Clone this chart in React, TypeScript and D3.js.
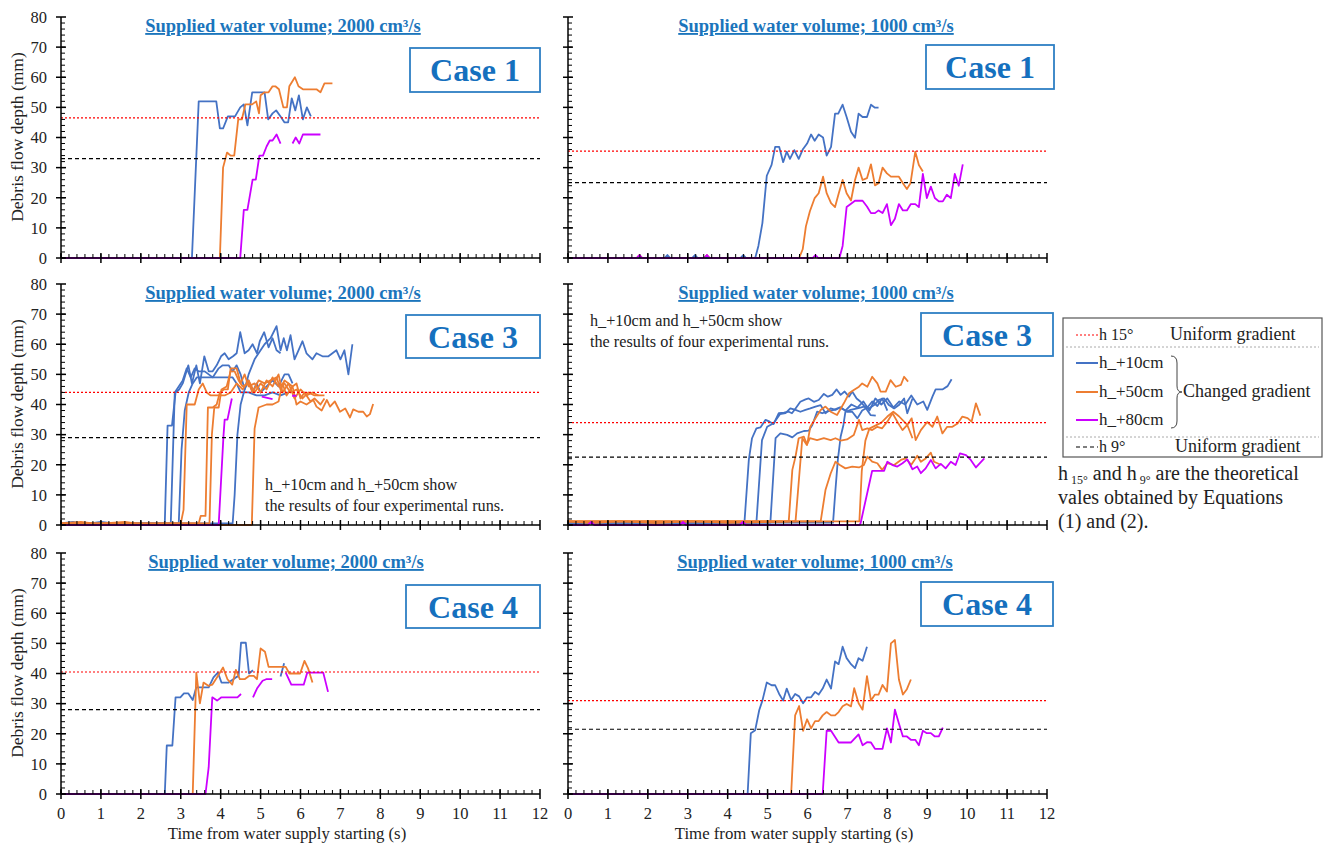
import * as d3 from 'd3'

type Pt = [number, number | null]

const BLUE = '#4472c4'
const ORANGE = '#ed7d31'
const MAGENTA = '#cc00ff'
const TITLE_BLUE = '#1b75bc'
const FONT = "'Liberation Serif', 'DejaVu Serif', serif"

const X_DOMAIN = [0, 12]
const Y_DOMAIN = [0, 80]

// theoretical depths per panel (TL, TR, ML, MR, BL, BR)
const H15 = [46.5, 35.5, 44, 34, 40.5, 31]
const H9 = [33, 25, 29, 22.5, 28, 21.5]

const TITLES = [
  'Supplied water volume; 2000 cm³/s',
  'Supplied water volume; 1000 cm³/s',
]
const CASES = ['Case 1', 'Case 3', 'Case 4']

// ---- Case 1, 2000 cm3/s
const c1L_p10: Pt[] = [[0,0],[3.28,0],[3.45,52],[3.89,52],[3.98,43],[4.06,43],[4.18,47],[4.36,47],[4.49,50],[4.58,51],[4.67,44],[4.79,55],[4.96,55],[5.1,55],[5.19,46],[5.3,48],[5.39,49],[5.5,47],[5.6,45],[5.69,45],[5.78,53],[5.87,49],[5.96,54],[6.06,46],[6.16,50],[6.26,47]]
const c1L_p50: Pt[] = [[0,0],[3.98,0],[4.06,30],[4.16,35],[4.25,34],[4.34,34],[4.44,46],[4.53,46],[4.62,51],[4.79,51],[4.89,52],[4.96,48],[5.0,54],[5.1,55],[5.2,55],[5.3,57],[5.37,57],[5.46,56],[5.57,50],[5.66,50],[5.72,57],[5.86,60],[5.95,57],[6.06,56],[6.4,56],[6.5,55],[6.6,58],[6.8,58]]
const c1L_p80: Pt[] = [[0,0],[4.49,0],[4.58,16],[4.67,16],[4.8,26],[4.88,26],[4.97,34],[5.06,34],[5.15,37],[5.23,39],[5.3,39],[5.4,41],[5.5,38],[5.6,null],[5.8,38],[5.88,40],[5.97,38],[6.06,41],[6.5,41]]

// ---- Case 1, 1000 cm3/s
const c1R_p10: Pt[] = [[0,0],[2.42,0],[2.49,1],[2.56,0],[3.11,0],[3.18,1],[3.25,0],[4.32,0],[4.39,1],[4.46,0],[4.69,0],[4.77,4],[4.87,11.6],[4.98,27.3],[5.1,30.9],[5.19,36.9],[5.29,36.9],[5.39,31.8],[5.48,35.3],[5.56,32.9],[5.67,35.8],[5.78,32.9],[5.88,36],[5.99,38],[6.09,41],[6.18,38.9],[6.28,41],[6.39,40],[6.48,34],[6.59,36.9],[6.69,47.9],[6.77,47.9],[6.88,50.9],[6.98,46.8],[7.09,41.9],[7.19,39.9],[7.28,47.9],[7.38,46.8],[7.49,46.8],[7.59,50.9],[7.69,49.9],[7.78,49.9]]
const c1R_p50: Pt[] = [[0,0],[1.72,0],[1.79,1],[1.86,0],[3.41,0],[3.48,1],[3.55,0],[5.79,0],[5.88,2.9],[5.96,10.5],[6.06,15.5],[6.18,19.9],[6.28,21.5],[6.39,27],[6.48,21.5],[6.59,18.2],[6.69,16.9],[6.78,21.3],[6.88,25.9],[6.98,21.5],[7.09,19.1],[7.19,25.9],[7.28,30],[7.38,25.9],[7.49,26.5],[7.59,31.1],[7.69,24.1],[7.78,24.8],[7.88,30],[7.99,28.1],[8.09,27],[8.29,27],[8.39,24.8],[8.49,22.9],[8.58,24.8],[8.7,35.3],[8.79,30.9],[8.89,28.7]]
const c1R_p80: Pt[] = [[0,0],[1.72,0],[1.79,1],[1.86,0],[3.41,0],[3.48,1],[3.55,0],[6.13,0],[6.2,1],[6.27,0],[6.8,0],[6.88,4],[6.98,16.9],[7.09,18],[7.19,19],[7.38,19],[7.49,17.1],[7.59,14.9],[7.69,14.9],[7.78,15.8],[7.88,14.9],[7.99,17.9],[8.09,10.9],[8.19,13],[8.29,17.9],[8.39,15.8],[8.49,15.8],[8.59,17.9],[8.7,17.9],[8.79,16.9],[8.89,27.9],[8.99,19.9],[9.09,23.7],[9.19,19.9],[9.29,18.8],[9.39,18.8],[9.49,21],[9.59,19.9],[9.69,27.9],[9.79,24],[9.89,31.1]]

// ---- Case 3, 2000 cm3/s (four runs for +10 and +50)
const c3L_p10a: Pt[] = [[0,0.5],[0.3,1],[0.6,0.3],[1.0,1],[1.4,0.4],[2.6,0.5],[2.67,33],[2.78,33],[2.87,44],[2.96,45],[3.05,47],[3.19,53],[3.28,47],[3.39,53],[3.48,47],[3.59,56],[3.7,51],[3.8,51],[3.9,53],[4.01,56],[4.1,57],[4.2,55],[4.31,56],[4.4,57],[4.49,64],[4.6,57],[4.7,58],[4.8,60],[4.91,57],[4.98,61],[5.09,64],[5.2,59],[5.3,62],[5.4,58],[5.5,57]]
const c3L_p10b: Pt[] = [[0,0.5],[2.75,0.5],[2.85,44],[2.95,46],[3.05,48],[3.15,52],[3.25,49],[3.35,52],[3.45,51],[3.6,51],[3.8,49],[3.95,52],[4.05,53],[4.2,53],[4.3,51],[4.4,53],[4.5,50],[4.6,45],[4.7,48],[4.8,44],[4.9,47],[5.0,44],[5.15,46],[5.3,48],[5.45,46],[5.6,50],[5.7,50],[5.8,47]]
const c3L_p10c: Pt[] = [[0,0.5],[2.95,0.5],[3.02,25],[3.1,38],[3.2,44],[3.3,47],[3.4,49],[4.3,49],[4.4,47],[4.5,44],[4.7,44],[4.9,43],[5.1,43],[5.3,44],[5.5,43],[5.7,44]]
const c3L_p10d: Pt[] = [[0,0.5],[4.3,0.5],[4.35,10],[4.42,30],[4.5,40],[4.58,44],[4.7,50],[4.85,55],[5.0,58],[5.1,60],[5.25,62],[5.4,66],[5.5,58],[5.58,62],[5.66,58],[5.75,63],[5.85,55],[5.95,58],[6.05,61],[6.15,57],[6.3,55],[6.4,57],[6.55,56],[6.7,56],[6.8,57],[6.9,58],[7.0,55],[7.1,58],[7.2,50],[7.3,60]]
const c3L_p50a: Pt[] = [[0,0.5],[0.5,1],[0.9,0.4],[1.6,1],[2.0,0.3],[3.0,0.5],[3.07,5],[3.15,40],[3.35,40],[3.45,45],[3.55,47],[3.65,44],[3.75,43],[4.1,43],[4.25,44],[4.4,47],[4.55,45],[4.7,48],[4.85,44],[5.0,47],[5.15,45],[5.3,49],[5.45,46],[5.6,47],[5.75,44],[5.9,45],[6.05,42],[6.2,44],[6.35,43],[6.6,43]]
const c3L_p50b: Pt[] = [[0,0.5],[3.45,0.5],[3.5,3],[3.62,3],[3.68,39],[3.8,39],[3.9,40],[3.98,44],[4.08,45],[4.18,45],[4.25,52],[4.4,52],[4.5,47],[4.6,50],[4.7,46],[4.85,47],[5.0,44],[5.15,48],[5.3,46],[5.45,50],[5.55,44],[5.7,47],[5.85,42],[6.0,45],[6.15,43],[6.3,44],[6.45,43]]
const c3L_p50c: Pt[] = [[0,0.5],[3.72,0.5],[3.78,30],[3.84,39],[3.95,39],[4.02,45],[4.15,46],[4.25,51],[4.35,51],[4.45,48],[4.55,46],[4.7,47],[4.8,44],[4.95,48],[5.1,47],[5.25,48],[5.4,49],[5.5,45],[5.6,48],[5.7,47],[5.8,46],[5.9,47],[6.0,42],[6.1,44],[6.25,41],[6.35,42],[6.5,40],[6.6,42]]
const c3L_p50d: Pt[] = [[0,0],[4.78,0],[4.85,32],[4.95,39],[5.15,40],[5.3,40],[5.45,41],[5.55,47],[5.65,43],[5.8,46],[5.9,40],[6.0,41],[6.15,40],[6.32,41.5],[6.4,39.3],[6.53,38],[6.66,41.5],[6.74,39.3],[6.86,41],[6.99,37.6],[7.12,38.7],[7.24,35.7],[7.32,38.4],[7.45,37.6],[7.57,37.6],[7.66,36],[7.74,36.8],[7.82,40.2]]
const c3L_p80: Pt[] = [[0,0],[3.95,0],[4.07,29.5],[4.1,35],[4.17,35],[4.28,42],[4.5,null],[5.03,42.6],[5.3,41.8],[5.5,null],[5.79,42.9],[5.9,42.9]]

// ---- Case 3, 1000 cm3/s
const c3R_p10a: Pt[] = [[0,0.8],[4.42,0.8],[4.53,21.6],[4.61,28.8],[4.72,32.1],[4.82,32.4],[4.95,34.9],[5.05,34.3],[5.15,33.5],[5.28,37.1],[5.41,37.3],[5.53,37.6],[5.61,37.1],[5.7,38.7],[5.82,40.9],[5.95,41.7],[6.03,42],[6.16,40.9],[6.28,41.5],[6.41,43.5],[6.51,42.6],[6.62,43.2],[6.73,45],[6.83,43.2],[6.93,44.3],[7.04,42.6],[7.12,44.3],[7.23,42],[7.33,40.9],[7.45,39],[7.58,36.5],[7.71,36.3]]
const c3R_p10b: Pt[] = [[0,0.8],[4.72,0.8],[4.86,28.2],[4.99,32.6],[5.15,33.8],[5.31,36.8],[5.45,37.1],[5.57,38.7],[5.7,38.2],[5.82,37.6],[5.95,38.2],[6.07,38.7],[6.2,39.3],[6.33,39.8],[6.45,37.1],[6.58,38.7],[6.7,38.2],[6.83,39.1],[6.99,37.6],[7.12,37.6],[7.25,35.4],[7.37,38],[7.5,39],[7.62,41],[7.75,39.5],[7.87,42],[8.0,38]]
const c3R_p10c: Pt[] = [[0,0.8],[5.07,0.8],[5.2,28.8],[5.32,30.4],[5.49,29.9],[5.62,29.1],[5.74,30.4],[5.91,31.2],[6.03,31.3],[6.12,33.2],[6.24,37.6],[6.37,37.1],[6.49,37.6],[6.66,38.2],[6.8,39],[6.95,38],[7.1,40],[7.25,39],[7.4,41],[7.55,38],[7.7,42],[7.85,40],[8.0,42],[8.15,39],[8.3,41],[8.45,40],[8.6,43],[8.75,40],[8.9,41],[9.0,38.2],[9.13,42.6],[9.21,45],[9.38,45],[9.51,46.1],[9.61,48.4]]
const c3R_p10d: Pt[] = [[0,0.8],[6.64,0.8],[6.7,11.6],[6.76,21.6],[6.83,29.3],[6.9,33.2],[6.95,37.6],[7.08,38.2],[7.25,38.7],[7.42,39.3],[7.54,38.7],[7.67,39.8],[7.79,41.5],[7.92,42],[8.04,39.8],[8.17,38.7],[8.29,39.8],[8.42,42],[8.5,37.1],[8.63,42]]
const c3R_p50a: Pt[] = [[0,1.2],[0.6,0.6],[1.3,1.3],[2.2,0.6],[3.1,1.3],[4.0,0.7],[5.53,1.2],[5.62,18.3],[5.7,22.7],[5.78,28.8],[5.91,29.3],[5.99,26.6],[6.07,32.6],[6.2,35.4],[6.33,38.2],[6.45,39.3],[6.58,37.6],[6.74,36.5],[6.91,40.4],[7.04,43.7],[7.16,44.8],[7.29,45.9],[7.37,47],[7.5,45.9],[7.62,49.2],[7.75,47],[7.83,44.3],[7.96,44.3],[8.08,48.1],[8.21,45.9],[8.34,46.5],[8.42,49.2],[8.52,47.6]]
const c3R_p50b: Pt[] = [[0,1.2],[5.7,1.2],[5.87,28.8],[5.98,26.6],[6.06,28.8],[6.24,28.2],[6.41,28.8],[6.58,28.2],[6.7,28.8],[6.83,28],[6.99,28.4],[7.16,29.9],[7.29,34.9],[7.37,31.5],[7.5,32.1],[7.62,31.5],[7.75,32.6],[7.87,32.1],[8.0,34.3],[8.13,37.1],[8.25,34.3],[8.38,31.5],[8.5,33.2],[8.63,28.8]]
const c3R_p50c: Pt[] = [[0,1.2],[6.33,1.2],[6.45,11.6],[6.58,17.1],[6.7,21],[6.81,19.9],[6.95,18.8],[7.12,19.4],[7.29,19.1],[7.41,19.9],[7.5,22.7],[7.62,21],[7.75,20.5],[7.87,18.3],[8.0,20.5],[8.17,19.9],[8.34,21.6],[8.46,22.1],[8.6,20],[8.75,23],[8.84,21],[8.96,22.1],[9.09,24],[9.17,21],[9.34,20]]
const c3R_p50d: Pt[] = [[0,1.2],[7.3,1.2],[7.36,18],[7.45,28],[7.55,32],[7.7,33],[7.85,34],[8.0,36],[8.15,37.6],[8.29,36.1],[8.5,33.2],[8.61,35.4],[8.71,28.2],[8.84,31.5],[9.0,34.2],[9.13,32.6],[9.25,36],[9.38,30.4],[9.5,32.6],[9.63,32.6],[9.76,33.7],[9.88,36],[10.01,35.5],[10.11,34.3],[10.22,40.4],[10.33,36.3]]
const c3R_p80: Pt[] = [[0,0],[0.5,0],[0.58,1],[0.66,0],[2.8,0],[2.88,1],[2.96,0],[4.3,0],[4.38,1],[4.46,0],[7.3,0],[7.33,0.6],[7.62,18],[7.92,18],[8.0,21],[8.13,19.9],[8.25,19.4],[8.38,20.5],[8.5,21.8],[8.63,18.5],[8.75,19.4],[8.84,17.2],[8.96,18.8],[9.09,21.6],[9.21,18.8],[9.34,20.3],[9.46,18.8],[9.59,21],[9.71,19.9],[9.82,23.8],[9.97,23.2],[10.09,21.6],[10.22,19.1],[10.43,22.1]]

// ---- Case 4, 2000 cm3/s
const c4L_p10: Pt[] = [[0,0],[2.6,0],[2.65,16.1],[2.79,16.1],[2.87,32.1],[2.99,32.1],[3.08,33.4],[3.19,33.4],[3.3,31.2],[3.39,35.4],[3.7,35.4],[3.82,38.7],[3.93,40.3],[4.02,37],[4.2,37],[4.38,38.7],[4.45,39.2],[4.51,50.2],[4.63,50.2],[4.71,40],[4.81,41.1],[5.0,null],[5.5,39],[5.59,43.4]]
const c4L_p50: Pt[] = [[0,0],[3.3,0],[3.39,40.3],[3.48,30.1],[3.57,37],[3.69,35.9],[3.79,36.3],[3.93,39.2],[4.06,42],[4.17,38.1],[4.29,36.3],[4.38,41.2],[4.48,38.1],[4.6,38.1],[4.71,39.2],[4.83,39.2],[4.91,38.1],[5.0,48.3],[5.11,47.2],[5.2,42.2],[5.63,42.2],[5.72,40],[5.99,40],[6.1,44.2],[6.19,41.7],[6.3,37]]
const c4L_p80: Pt[] = [[0,0],[3.62,0],[3.7,8.9],[3.79,32.1],[3.91,31],[4.02,32.1],[4.42,32.1],[4.51,33.2],[4.65,null],[4.81,32.1],[4.91,35],[5.05,37.6],[5.14,38.1],[5.29,38.1],[5.45,null],[5.63,40.3],[5.77,36.3],[6.08,36.3],[6.17,40.3],[6.57,40.3],[6.69,33.9]]

// ---- Case 4, 1000 cm3/s
const c4R_p10: Pt[] = [[0,0],[4.5,0],[4.58,20.2],[4.69,21.2],[4.79,27.8],[4.87,31],[4.98,37],[5.1,36.1],[5.19,36.1],[5.29,33.2],[5.39,31],[5.48,35],[5.59,31.2],[5.69,33.2],[5.79,32.4],[5.89,30.1],[5.99,32.1],[6.09,32.1],[6.19,33.9],[6.28,33],[6.38,35],[6.48,38],[6.59,35],[6.69,44],[6.78,43.1],[6.88,48.9],[6.98,45.1],[7.09,43.1],[7.19,41.8],[7.28,45.1],[7.38,44.2],[7.49,48.9]]
const c4R_p50: Pt[] = [[0,0],[5.59,0],[5.69,26.1],[5.79,29.2],[5.89,21],[5.99,24.8],[6.09,21.8],[6.19,24.2],[6.28,24.2],[6.38,26.1],[6.48,27.2],[6.59,26.1],[6.69,26.1],[6.78,27.2],[6.88,29.1],[6.98,29.9],[7.09,29.1],[7.17,35.1],[7.28,30.1],[7.38,28],[7.49,39.1],[7.59,31],[7.69,33],[7.78,33],[7.88,36.2],[7.99,34],[8.09,50],[8.19,51.1],[8.29,38],[8.39,33],[8.49,34.8],[8.59,38]]
const c4R_p80: Pt[] = [[0,0],[6.38,0],[6.48,21],[6.59,21],[6.78,17.1],[7.09,17.1],[7.28,19.8],[7.38,16.2],[7.49,17.2],[7.59,17.1],[7.69,15],[7.88,15],[7.99,21.8],[8.09,17.1],[8.19,28],[8.29,23.4],[8.39,19.1],[8.49,19.1],[8.59,18],[8.7,18],[8.79,16.2],[8.89,21],[8.99,20.2],[9.09,20.2],[9.19,19.1],[9.29,19.1],[9.39,22]]

type Series = {pts: Pt[]; color: string}

type PanelCfg = {
  left: number
  top: number
  idx: number
  title: string
  caseLabel: string
  series: Series[]
  yLabels: boolean
  xLabels: boolean
  titleX: number
  box: [number, number, number, number]
  note?: [number, number]
}

const PANEL_W = 479
const PANEL_H = 241

const ser = (color: string, ...list: Pt[][]): Series[] => list.map(pts => ({pts, color}))

const PANELS: PanelCfg[] = [
  {left: 61, top: 17, idx: 0, title: TITLES[0], caseLabel: CASES[0], yLabels: true, xLabels: false, titleX: 283, box: [410, 48, 130, 44],
    series: [...ser(BLUE, c1L_p10), ...ser(ORANGE, c1L_p50), ...ser(MAGENTA, c1L_p80)]},
  {left: 568, top: 17, idx: 1, title: TITLES[1], caseLabel: CASES[0], yLabels: false, xLabels: false, titleX: 816, box: [926, 45, 128, 44],
    series: [...ser(BLUE, c1R_p10), ...ser(ORANGE, c1R_p50), ...ser(MAGENTA, c1R_p80)]},
  {left: 61, top: 284, idx: 2, title: TITLES[0], caseLabel: CASES[1], yLabels: true, xLabels: false, titleX: 283, box: [406, 315, 134, 43], note: [265, 490],
    series: [...ser(BLUE, c3L_p10a, c3L_p10b, c3L_p10c, c3L_p10d), ...ser(ORANGE, c3L_p50a, c3L_p50b, c3L_p50c, c3L_p50d), ...ser(MAGENTA, c3L_p80)]},
  {left: 568, top: 284, idx: 3, title: TITLES[1], caseLabel: CASES[1], yLabels: false, xLabels: false, titleX: 816, box: [921, 313, 132, 43], note: [590, 326],
    series: [...ser(BLUE, c3R_p10a, c3R_p10b, c3R_p10c, c3R_p10d), ...ser(ORANGE, c3R_p50a, c3R_p50b, c3R_p50c, c3R_p50d), ...ser(MAGENTA, c3R_p80)]},
  {left: 61, top: 553, idx: 4, title: TITLES[0], caseLabel: CASES[2], yLabels: true, xLabels: true, titleX: 286, box: [406, 585, 134, 43],
    series: [...ser(BLUE, c4L_p10), ...ser(ORANGE, c4L_p50), ...ser(MAGENTA, c4L_p80)]},
  {left: 568, top: 553, idx: 5, title: TITLES[1], caseLabel: CASES[2], yLabels: false, xLabels: true, titleX: 815, box: [921, 582, 132, 44],
    series: [...ser(BLUE, c4R_p10), ...ser(ORANGE, c4R_p50), ...ser(MAGENTA, c4R_p80)]},
]

const Panel = ({p}: {p: PanelCfg}) => {
  const x = d3.scaleLinear().domain(X_DOMAIN).range([p.left, p.left + PANEL_W])
  const y = d3.scaleLinear().domain(Y_DOMAIN).range([p.top + PANEL_H, p.top])
  const line = d3
    .line<Pt>()
    .defined(d => d[1] !== null)
    .x(d => x(d[0]))
    .y(d => y(d[1] as number))

  const x0 = x(0)
  const y0 = y(0)
  const majorX = x.ticks(12)
  const minorX = d3.range(0, 60).map(i => i * 0.2)
  const majorY = y.ticks(8)
  const minorY = d3.range(0, 40).map(i => i * 2)

  return (
    <g>
      {p.series.map((s, i) => (
        <path key={i} d={line(s.pts) || ''} fill="none" stroke={s.color} strokeWidth={1.8} strokeLinejoin="round" />
      ))}
      <line x1={x(0)} x2={x(12)} y1={y(H15[p.idx])} y2={y(H15[p.idx])} stroke="#ff0000" strokeWidth={1.2} strokeDasharray="2,2" />
      <line x1={x(0)} x2={x(12)} y1={y(H9[p.idx])} y2={y(H9[p.idx])} stroke="#000" strokeWidth={1.2} strokeDasharray="4,3" />

      {/* axes */}
      <line x1={x0} x2={x0} y1={y(80)} y2={y0} stroke="#000" strokeWidth={1.5} />
      <line x1={x0} x2={x(12)} y1={y0} y2={y0} stroke="#000" strokeWidth={1.5} />
      {minorY.map(v => (
        <line key={'my' + v} x1={x0} x2={x0 + 4} y1={y(v)} y2={y(v)} stroke="#000" strokeWidth={1} />
      ))}
      {majorY.map(v => (
        <g key={'y' + v}>
          <line x1={x0 - 5} x2={x0 + 5} y1={y(v)} y2={y(v)} stroke="#000" strokeWidth={1.5} />
          {p.yLabels && (
            <text x={x0 - 14} y={y(v)} dy="0.35em" textAnchor="end" fontSize={16.5} fill="#222">
              {v}
            </text>
          )}
        </g>
      ))}
      {minorX.map(v => (
        <line key={'mx' + v} x1={x(v)} x2={x(v)} y1={y0} y2={y0 - 4} stroke="#000" strokeWidth={1} />
      ))}
      {majorX.map(v => (
        <g key={'x' + v}>
          <line x1={x(v)} x2={x(v)} y1={y0 - 5} y2={y0 + 5} stroke="#000" strokeWidth={1.5} />
          {p.xLabels && (
            <text x={x(v)} y={y0 + 25} textAnchor="middle" fontSize={16.5} fill="#222">
              {v}
            </text>
          )}
        </g>
      ))}

      {p.yLabels && (
        <text transform={`translate(23,${p.top + 120}) rotate(-90)`} textAnchor="middle" fontSize={17.5} fill="#222">
          Debris flow depth (mm)
        </text>
      )}
      {p.xLabels && (
        <text x={p.left + 226} y={y0 + 45} textAnchor="middle" fontSize={16.8} fill="#222">
          Time from water supply starting (s)
        </text>
      )}

      <text x={p.titleX} y={p.top + 15} textAnchor="middle" fontSize={18.5} fontWeight="bold" fill={TITLE_BLUE} style={{textDecoration: 'underline'}}>
        {p.title}
      </text>

      <rect x={p.box[0]} y={p.box[1]} width={p.box[2]} height={p.box[3]} fill="#fff" stroke="#2e7fc4" strokeWidth={1.8} />
      <text x={p.box[0] + p.box[2] / 2} y={p.box[1] + p.box[3] / 2} dy="0.35em" textAnchor="middle" fontSize={32} fontWeight="bold" fill="#1570be">
        {p.caseLabel}
      </text>

      {p.note && (
        <text x={p.note[0]} y={p.note[1]} fontSize={16.2} fill="#222">
          <tspan x={p.note[0]}>h_+10cm and h_+50cm show</tspan>
          <tspan x={p.note[0]} dy={21}>the results of four experimental runs.</tspan>
        </text>
      )}
    </g>
  )
}

const LEGEND_ROWS = [
  {label: 'h_+10cm', color: BLUE, y: 363},
  {label: 'h_+50cm', color: ORANGE, y: 392},
  {label: 'h_+80cm', color: MAGENTA, y: 420},
]

const Legend = () => (
  <g fontSize={17} fill="#222">
    <rect x={1063} y={318} width={259} height={139} fill="#fff" stroke="#555" strokeWidth={1.2} />
    <line x1={1076} x2={1098} y1={335} y2={335} stroke="#ff0000" strokeWidth={1.2} strokeDasharray="2,2" />
    <text x={1099} y={340} fontSize={16}>h 15°</text>
    <text x={1170} y={340} fontSize={18}>Uniform gradient</text>
    <line x1={1066} x2={1319} y1={347} y2={347} stroke="#aaa" strokeWidth={1} strokeDasharray="2,2" />
    {LEGEND_ROWS.map(r => (
      <g key={r.label}>
        <line x1={1076} x2={1098} y1={r.y} y2={r.y} stroke={r.color} strokeWidth={2} />
        <text x={1099} y={r.y + 5}>{r.label}</text>
      </g>
    ))}
    <path d="M1171,356 Q1177,356 1177,363 L1177,386 Q1177,392 1182,392 Q1177,392 1177,398 L1177,421 Q1177,428 1171,428" fill="none" stroke="#444" strokeWidth={1} />
    <text x={1183} y={397} fontSize={18}>Changed gradient</text>
    <line x1={1066} x2={1319} y1={437} y2={437} stroke="#aaa" strokeWidth={1} strokeDasharray="2,2" />
    <line x1={1076} x2={1098} y1={447} y2={447} stroke="#000" strokeWidth={1.2} strokeDasharray="4,3" />
    <text x={1099} y={452} fontSize={16}>h 9°</text>
    <text x={1175} y={452} fontSize={18}>Uniform gradient</text>
  </g>
)

const Note = () => (
  <g fontSize={20} fill="#222">
    <text x={1058} y={480}>
      h<tspan fontSize={12} dy={4}> 15°</tspan>
      <tspan dy={-4}>  and h</tspan>
      <tspan fontSize={12} dy={4}> 9°</tspan>
      <tspan dy={-4}>  are the theoretical</tspan>
    </text>
    <text x={1058} y={504}>vales obtained by Equations</text>
    <text x={1058} y={528}>(1) and (2).</text>
  </g>
)

export default function App() {
  return (
    <svg width={1344} height={848} style={{position: 'absolute', left: 0, top: 0, background: '#fff'}} fontFamily={FONT}>
      <rect width={1344} height={848} fill="#fff" />
      {PANELS.map(p => (
        <Panel key={p.idx} p={p} />
      ))}
      <Legend />
      <Note />
    </svg>
  )
}
